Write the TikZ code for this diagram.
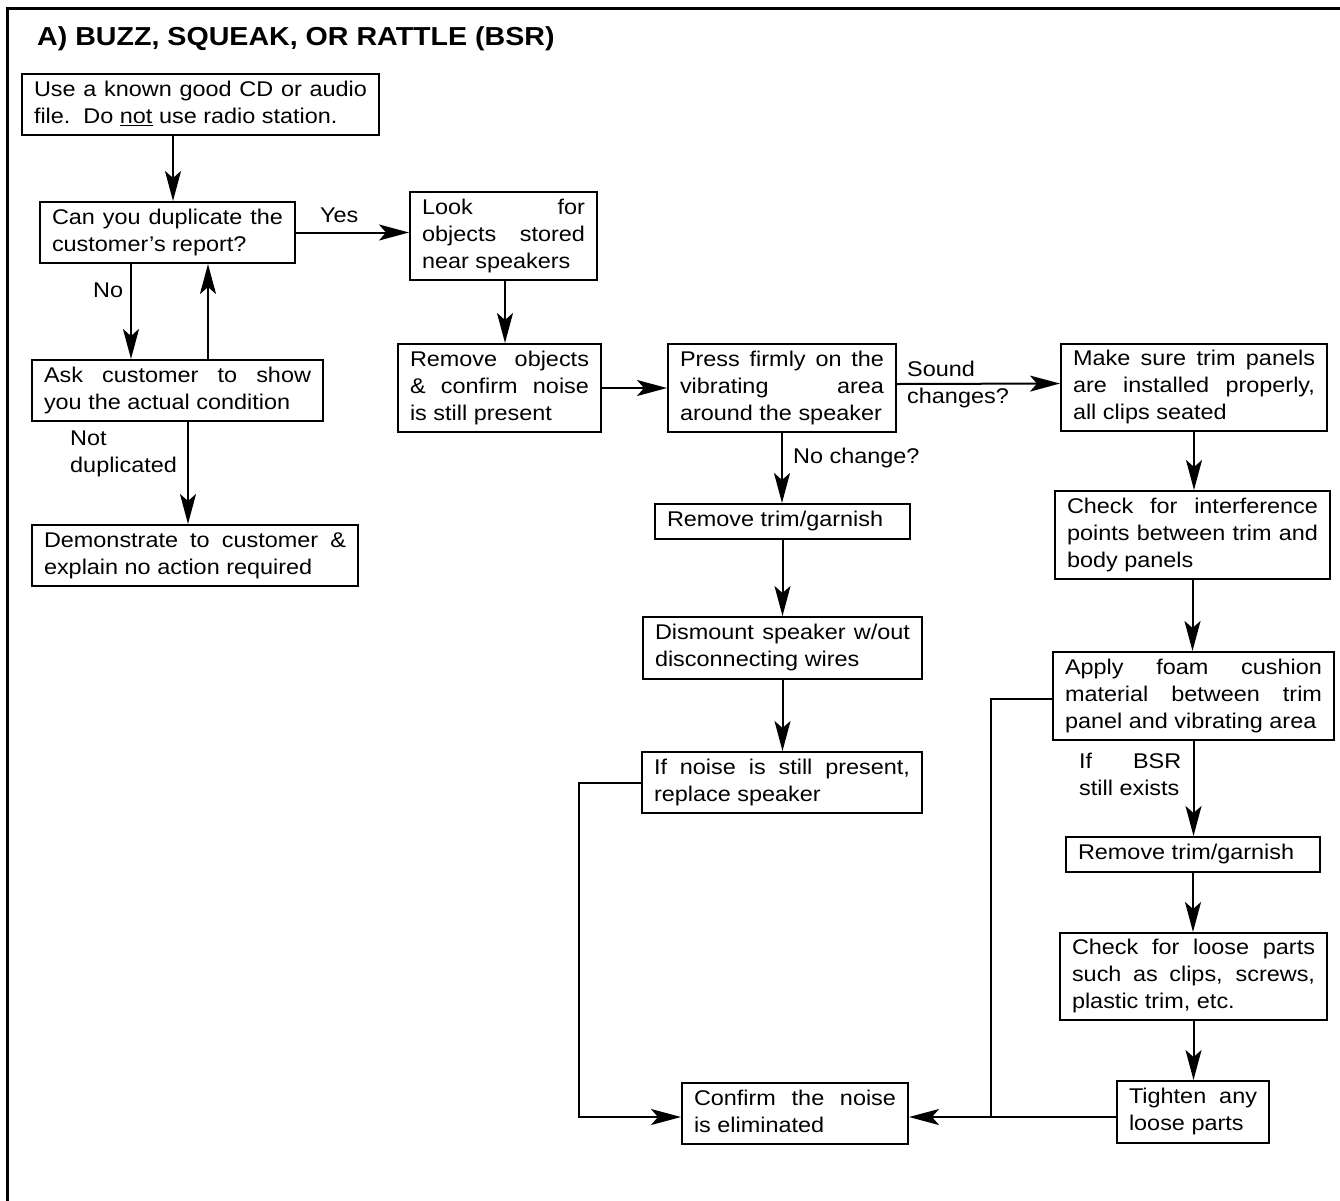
\documentclass[tikz,border=0pt]{standalone}
\usepackage{fontspec}
\setmainfont{Liberation Sans}[FakeStretch=1.1]
\usepackage{tikz}
\usetikzlibrary{arrows.meta}
\newcommand{\corps}{\fontsize{21.3}{27}\selectfont}
\tolerance=10000
\hbadness=10000
\hyphenpenalty=10000

\begin{document}
\begin{tikzpicture}[x=1pt,y=-1pt,
  boite/.style={draw,line width=2pt,anchor=north west,inner xsep=12pt,inner ysep=0pt,
    align=justify,font=\corps,execute at begin node=\strut,execute at end node=\strut},
  une/.style={boite,minimum height=35pt},
  deux/.style={boite,minimum height=61pt},
  trois/.style={boite,minimum height=88pt},
  fleche/.style={line width=2pt,-{Stealth[length=30pt,width=16pt,inset=7pt]}},
  etiq/.style={font=\corps,inner sep=0pt}]
  \useasboundingbox (0,0) rectangle (1340,1200);
  \draw[line width=3pt] (7,8) rectangle (1360,1220);
  \node[anchor=base west,inner sep=0pt,font=\bfseries\fontsize{26}{30}\selectfont] (titre) at (37,45)
    {A) BUZZ, SQUEAK, OR RATTLE (BSR)};

  % colonne de gauche
  \node[deux,text width=333pt] (start) at (21,73) {Use a known good CD or audio\linebreak file.\ \ Do \underline{not} use radio station.};
  \node[deux,text width=231pt] (dup) at (39,201) {Can you duplicate the\linebreak customer's report?};
  \node[deux,text width=267pt] (ask) at (31,359) {Ask customer to show\linebreak you the actual condition};
  \node[deux,text width=302pt] (demo) at (31,524) {Demonstrate to customer \&\linebreak explain no action required};

  % colonne du milieu
  \node[trois,text width=163pt] (look) at (409,191) {Look for\linebreak objects stored\linebreak near speakers};
  \node[trois,text width=179pt] (remobj) at (397,343) {Remove objects\linebreak \& confirm noise\linebreak is still present};
  \node[trois,text width=204pt] (press) at (667,343) {Press firmly on the\linebreak vibrating area\linebreak around the speaker};
  \node[une,text width=231pt] (trimL) at (654,503) {Remove trim/garnish};
  \node[deux,text width=255pt,minimum height=62pt] (dism) at (642,616) {Dismount speaker w/out\linebreak disconnecting wires};
  \node[deux,text width=256pt] (ifnoise) at (641,751) {If noise is still present,\linebreak replace speaker};
  \node[deux,text width=202pt] (confirm) at (681,1082) {Confirm the noise\linebreak is eliminated};

  % colonne de droite
  \node[trois,text width=242pt,minimum height=87pt] (make) at (1060,343) {Make sure trim panels\linebreak are installed properly,\linebreak all clips seated};
  \node[trois,text width=251pt] (interf) at (1054,490) {Check for interference\linebreak points between trim and\linebreak body panels};
  \node[trois,text width=257pt] (foam) at (1052,651) {Apply foam cushion\linebreak material between trim\linebreak panel and vibrating area};
  \node[une,text width=230pt] (trimR) at (1065,836) {Remove trim/garnish};
  \node[trois,text width=243pt,minimum height=87pt] (loose) at (1059,932) {Check for loose parts\linebreak such as clips, screws,\linebreak plastic trim, etc.};
  \node[deux,text width=128pt,minimum height=62pt] (tight) at (1116,1080) {Tighten any\linebreak loose parts};

  % etiquettes
  \node[etiq,anchor=base west] (yes) at (320,222) {Yes};
  \node[etiq,anchor=base west] (no) at (93,297) {No};
  \node[etiq,anchor=north west,align=left] (nondup) at (70,431) {Not\\duplicated};
  \node[etiq,anchor=north west,align=left] (sonchg) at (907,361) {Sound\\changes?};
  \node[etiq,anchor=base west] (nochg) at (793,463) {No change?};
  \node[etiq,anchor=north west,text width=102pt,align=justify] (sibsr) at (1079,753) {If BSR\linebreak still exists};

  \coordinate (coin) at (579,1117);
  \coordinate (jonction) at (991,1117);

  % fleches
  \draw[fleche] (173,0 |- start.south) -- (173,0 |- dup.north);
  \draw[fleche] (131,0 |- dup.south) -- (131,0 |- ask.north);
  \draw[fleche] (208,0 |- ask.north) -- (208,0 |- dup.south);
  \draw[fleche] (188,0 |- ask.south) -- (188,0 |- demo.north);
  \draw[fleche] (dup.east) -- (look.west |- dup.east);
  \draw[fleche] (505,0 |- look.south) -- (505,0 |- remobj.north);
  \draw[fleche] (remobj.east) -- (press.west);
  \draw[fleche] ([yshift=4pt]press.east) -- ([yshift=4pt]make.west);
  \foreach \a/\b in {press/trimL,trimL/dism,dism/ifnoise,make/interf,interf/foam,foam/trimR,trimR/loose,loose/tight}
    \draw[fleche] (\a.south) -- (\a.south |- \b.north);
  \draw[fleche] (ifnoise.west) -| (coin) -- (confirm.west |- coin);
  \draw[fleche] (tight.west |- jonction) -- (confirm.east |- jonction);
  \draw[line width=2pt] (foam.west |- 0,699) -| (jonction);
\end{tikzpicture}
\end{document}
